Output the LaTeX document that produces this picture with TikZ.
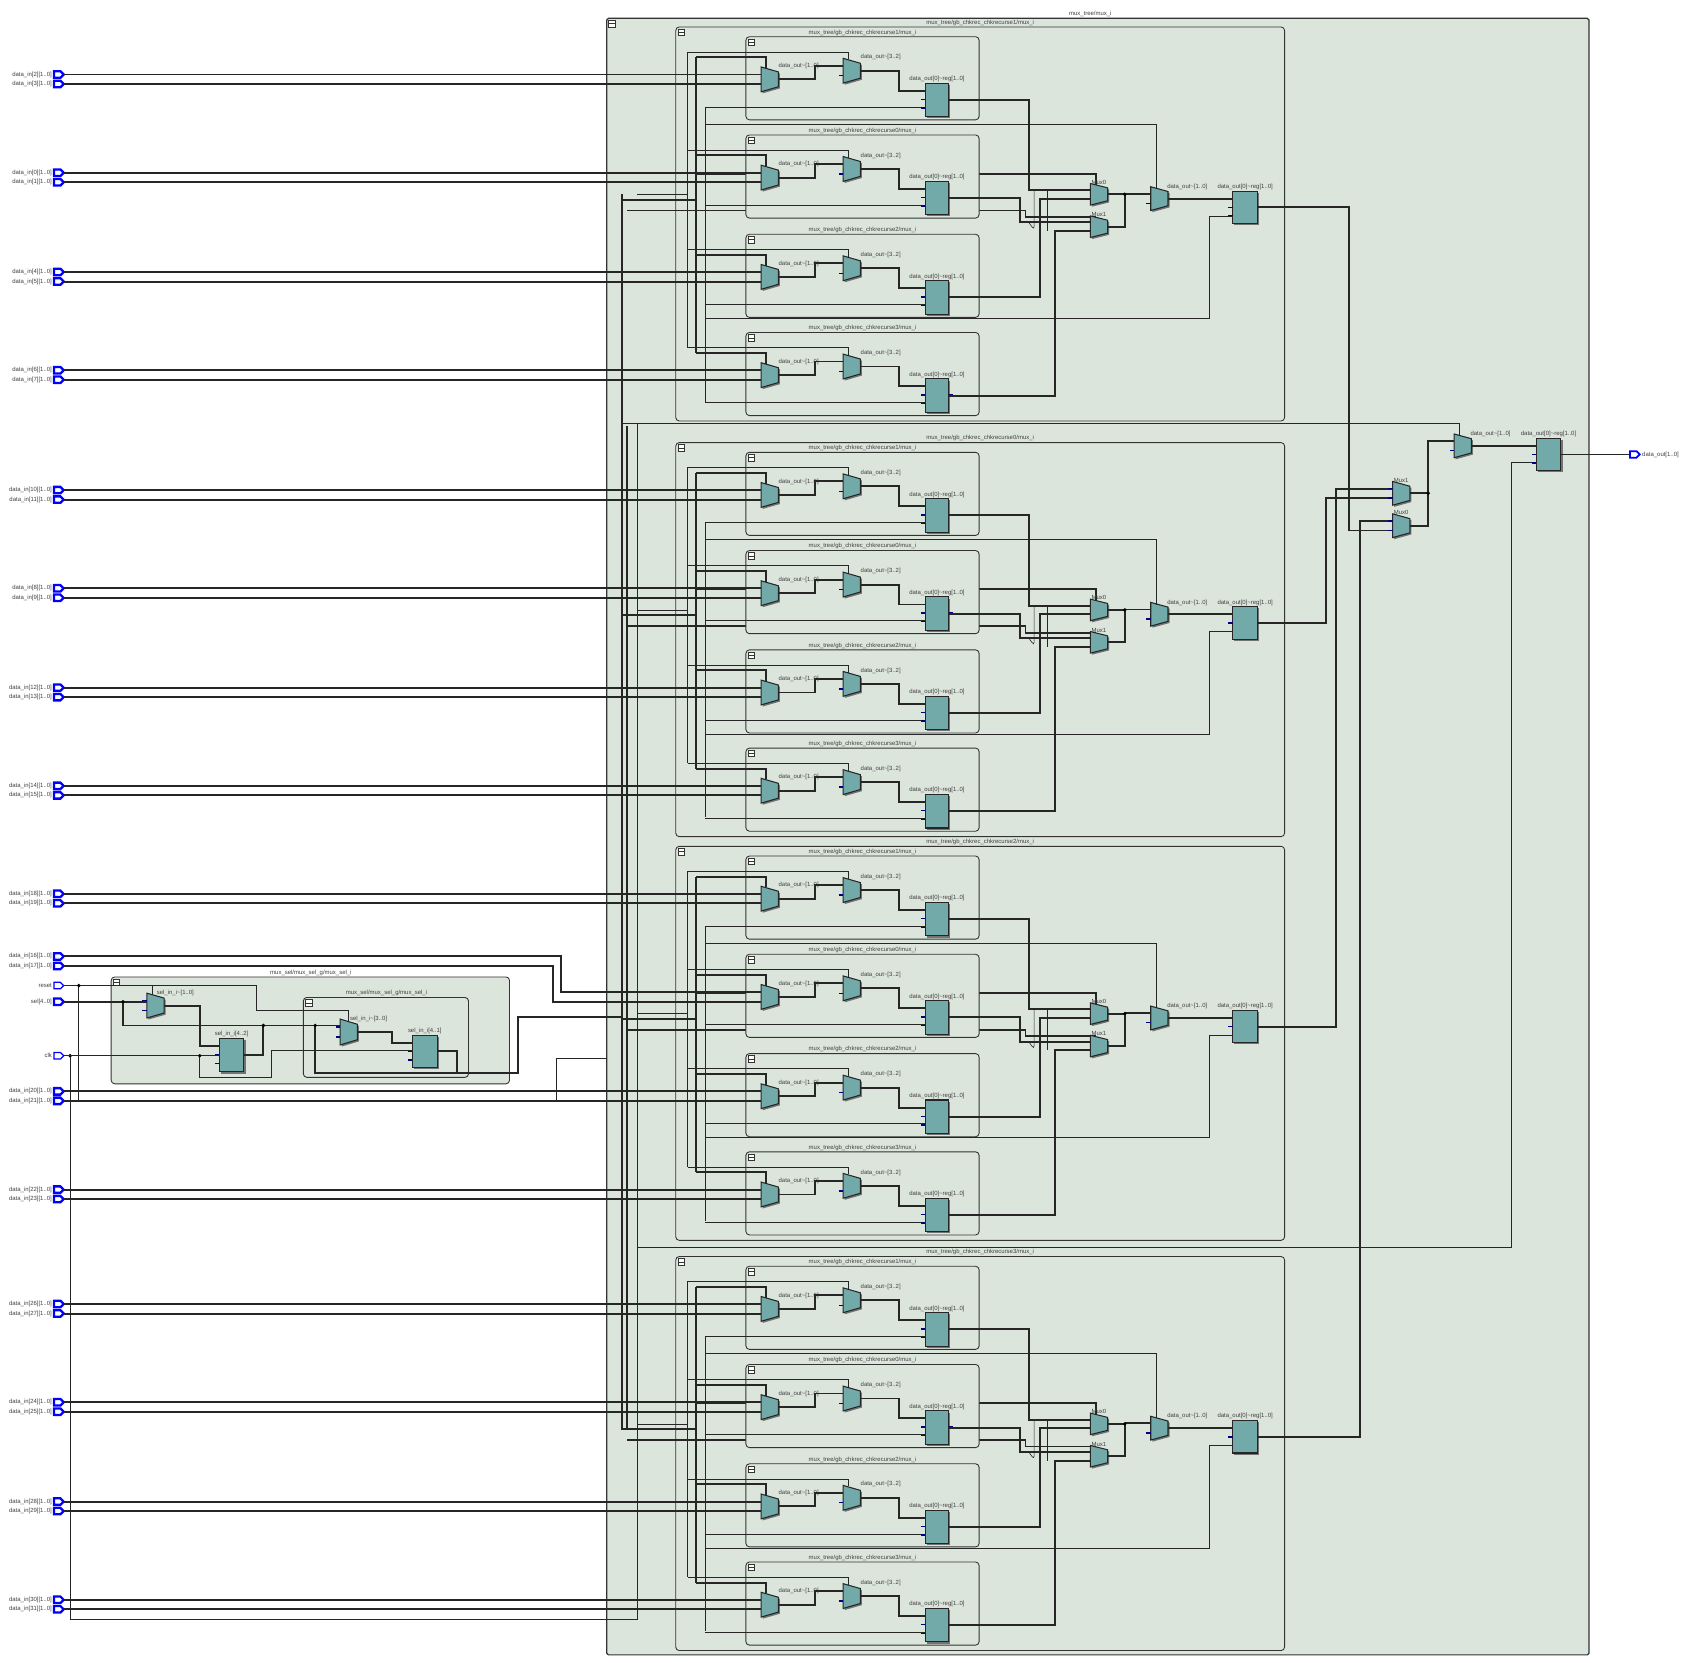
\documentclass[tikz,border=0pt]{standalone}
\usepackage{fontspec}
\setmainfont{Liberation Sans}
\definecolor{bgc}{HTML}{DCE5DC}
\definecolor{cellc}{HTML}{72AAAA}
\newcommand\mymux[4]{%
 \fill[black!55] (#1+1.5,#2+1.5) -- ++(16,{#3*0.2}) -- ++(0,{#3*0.6}) -- ++(-16,{#3*0.2}) -- cycle;
 \draw[cellf] (#1,#2) -- ++(16,{#3*0.2}) -- ++(0,{#3*0.6}) -- ++(-16,{#3*0.2}) -- cycle;
 \draw[stub] (#1-4,{#2+#3*0.3}) -- (#1,{#2+#3*0.3}) (#1-4,{#2+#3*0.7}) -- (#1,{#2+#3*0.7}) (#1+16,{#2+#3*0.5}) -- (#1+19,{#2+#3*0.5});
 \coordinate (#4) at (#1,#2);}
\newcommand\myreg[6]{%
 \fill[black!55] (#1+1.5,#2+1.5) rectangle ++(#3,#4);
 \draw[cellf] (#1,#2) rectangle ++(#3,#4);
 \draw[stub] (#1-4,#2+7) -- (#1,#2+7) (#1-4,#2+15) -- (#1,#2+15) (#1-4,#2+23) -- (#1,#2+23) (#1+#3,#2+15) -- (#1+#3+4,#2+15);
 \node[lab,above] (#6) at (#1+#3/2,#2) {#5};}
\newcommand\icon[2]{\draw[black!80,fill=white,line width=0.4pt] (#1,#2) rectangle ++(6,6); \draw[black!80,line width=0.4pt] (#1,#2+3) -- ++(6,0);}
\newcommand\levone[3]{%
 \draw[box] (691,#1) rectangle (907,#1+77);
 \icon{693}{#1+2}
 \node[lab,above] at (799,#1) {mux\_tree/gb\_chkrec\_chkrecurse#2/mux\_i};
 \draw[wire] (637,#1+14) -- (786,#1+14) -- (786,#1+21);
 \draw[bus] (645,#1+19) -- (710,#1+19) -- (710,#1+29);
 \draw[wire] (653,#1+65) -- (857,#1+65);
 \mymux{705}{#1+28}{23}{m1#3}
 \mymux{781}{#1+20}{23}{m2#3}
 \myreg{857}{#1+43}{22}{31}{data\_out[0]\string~reg[1..0]}{r#3}
 \node[lab,above right] at (720,#1+31) {data\_out\string~[1..0]};
 \node[lab,above right] at (796,#1+23) {data\_out\string~[3..2]};
 \draw[bus] (721,#1+39.5) -- (755,#1+39.5) -- (755,#1+26.9) -- (781,#1+26.9);
 \draw[bus] (797,#1+31.5) -- (833,#1+31.5) -- (833,#1+50) -- (857,#1+50);}
\begin{document}
\begin{tikzpicture}[x=0.021590cm,y=-0.021584cm,
 wire/.style={draw=black!85,line width=0.35pt},
 bus/.style={draw=black!85,line width=1.1pt},
 stub/.style={draw=blue!50!black,line width=0.8pt},
 box/.style={draw=black!80,fill=bgc,rounded corners=2pt,line width=0.5pt},
 cellf/.style={fill=cellc,draw=black!85,line width=0.6pt},
 lab/.style={font=\fontsize{3.4}{3.6}\selectfont,text=black!75,inner sep=0.6pt},
 plab/.style={font=\fontsize{3.4}{3.6}\selectfont,text=black!75,inner sep=1pt,left},
 dot/.style={circle,fill=black,inner sep=0pt,minimum size=2.2pt}]
\useasboundingbox (0,0) rectangle (1560,1540);
\draw[box,rounded corners=1pt,line width=0.7pt] (562,17) rectangle (1472,1533);
\icon{564}{19}
\node[lab,above] (top) at (1010,17) {mux\_tree/mux\_i};
\draw[bus] (576,180) -- (576,1325);
\draw[bus] (581,395) -- (581,1325);
\draw[wire] (590,392) -- (590,1410);
\draw[wire] (1352,404) -- (1352,392) -- (576,392);
\draw[wire] (1423,428) -- (1400,428) -- (1400,1155) -- (590,1155);
\foreach \G/\gl [count=\gi] in {25/1,410/0,784/2,1164/3}{
 \draw[box] (626,\G) rectangle (1190,\G+365);
 \icon{628}{\G+2}
 \node[lab,above] at (908,\G) {mux\_tree/gb\_chkrec\_chkrecurse\gl/mux\_i};
 \draw[bus] (645,\G+28) -- (645,\G+302);
 \draw[wire] (637,\G+23) -- (637,\G+297);
 \draw[wire] (653,\G+74) -- (653,\G+347);
 \draw[bus] (576,\G+160) -- (645,\G+160);
 \draw[bus] (581,\G+170) -- (950,\G+170) -- (950,\G+176) -- (1015,\G+176) (1015,\G+146) -- (1015,\G+136) -- (645,\G+136);
 \draw[wire] (590,\G+155) -- (637,\G+155);
 \foreach \o/\nm [count=\k] in {9/1,100/0,192/2,283/3}{\levone{\G+\o}{\nm}{\gi\k}}
 \mymux{1010}{\G+145}{20}{ma\gi}
 \mymux{1010}{\G+175}{20}{mb\gi}
 \node[lab,above] at (1018,\G+147) {Mux0};
 \node[lab,above] at (1018,\G+177) {Mux1};
 \mymux{1066}{\G+148}{22}{mc\gi}
 \node[lab,above right] at (1080,\G+152) {data\_out\string~[1..0]};
 \myreg{1142}{\G+152}{23}{30}{data\_out[0]\string~reg[1..0]}{rg\gi}
 \draw[bus] (879,\G+67.5) -- (953,\G+67.5) -- (953,\G+151) -- (1010,\G+151);
 \draw[bus] (879,\G+158.5) -- (945,\G+158.5) -- (945,\G+181) -- (1010,\G+181);
 \draw[bus] (879,\G+250.5) -- (963,\G+250.5) -- (963,\G+159) -- (1010,\G+159);
 \draw[bus] (879,\G+341.5) -- (977,\G+341.5) -- (977,\G+189) -- (1010,\G+189);
 \draw[wire,rounded corners=2pt] (953,\G+181) -- (958,\G+188) -- (958,\G+151);
 \draw[wire,rounded corners=2pt] (970,\G+151) -- (970,\G+189);
 \draw[bus] (1026,\G+155) -- (1042,\G+155) -- (1042,\G+185) -- (1026,\G+185);
 \draw[bus] (1042,\G+154.6) -- (1066,\G+154.6);
 \node[dot] at (1042,\G+155) {};
 \draw[bus] (1082,\G+159) -- (1142,\G+159);
 \draw[wire] (1071,\G+150) -- (1071,\G+90) -- (653,\G+90);
 \draw[wire] (1142,\G+175) -- (1120,\G+175) -- (1120,\G+270) -- (653,\G+270);
}
\draw[bus] (1165,192) -- (1250,192) -- (1250,491.4) -- (1290,491.4);
\draw[bus] (1165,577) -- (1228,577) -- (1228,461.4) -- (1290,461.4);
\draw[bus] (1165,951) -- (1238,951) -- (1238,452.6) -- (1290,452.6);
\draw[bus] (1165,1331) -- (1260,1331) -- (1260,482.6) -- (1290,482.6);
\mymux{1290}{446}{22}{tm1}
\mymux{1290}{476}{22}{tm0}
\node[lab,above] at (1298,448) {Mux1};
\node[lab,above] at (1298,478) {Mux0};
\mymux{1347}{402}{22}{tmc}
\node[lab,above right] at (1361,406) {data\_out\string~[1..0]};
\myreg{1423}{406}{23}{30}{data\_out[0]\string~reg[1..0]}{treg}
\draw[bus] (1306,457) -- (1323,457) (1306,487) -- (1323,487) -- (1323,408.6) -- (1347,408.6);
\node[dot] at (1323,457) {};
\draw[bus] (1363,413) -- (1423,413);
\draw[bus] (1446,421) -- (1510,421);
\draw[blue,line width=1pt,fill=white] (1510,418) -- (1516,418) -- (1519,421) -- (1516,424) -- (1510,424) -- cycle;
\node[lab,right] (dout) at (1520,421) {data\_out[1..0]};
\foreach \a/\b/\py/\my in {2/3/69/69,0/1/160/160,4/5/252/252,6/7/343/343,
 10/11/454/454,8/9/545/545,12/13/637/637,14/15/728/728,
 18/19/828/828,16/17/886/919,20/21/1011/1011,22/23/1102/1102,
 26/27/1208/1208,24/25/1299/1299,28/29/1391/1391,30/31/1482/1482}{
 \draw[blue,line width=1.3pt,fill=white] (50,\py-3) -- (56,\py-3) -- (59,\py) -- (56,\py+3) -- (50,\py+3) -- cycle;
 \draw[blue,line width=1.3pt,fill=white] (50,\py+5.8) -- (56,\py+5.8) -- (59,\py+8.8) -- (56,\py+11.8) -- (50,\py+11.8) -- cycle;
 \node[plab] at (50,\py) {data\_in[\a][1..0]};
 \node[plab] at (50,\py+8.8) {data\_in[\b][1..0]};
 \ifnum\py=\my
  \draw[bus] (59,\py) -- (705,\my);
  \draw[bus] (59,\py+8.8) -- (705,\my+8.8);
 \else
  \draw[bus] (59,\py) -- (520,\py) -- (520,\my) -- (705,\my);
  \draw[bus] (59,\py+8.8) -- (512,\py+8.8) -- (512,\my+8.8) -- (705,\my+8.8);
 \fi
}
\draw[blue,line width=0.7pt,fill=white] (50,910) -- (56,910) -- (59,913) -- (56,916) -- (50,916) -- cycle;
\node[plab] (rst) at (50,913) {reset};
\draw[blue,line width=1.3pt,fill=white] (50,925) -- (56,925) -- (59,928) -- (56,931) -- (50,931) -- cycle;
\node[plab] (sel) at (50,928) {sel[4..0]};
\draw[blue,line width=0.7pt,fill=white] (50,975) -- (56,975) -- (59,978) -- (56,981) -- (50,981) -- cycle;
\node[plab] (clk) at (50,978) {clk};
\draw[box] (103,905) rectangle (472,1004);
\icon{105}{907}
\node[lab,above] at (288,905) {mux\_sel/mux\_sel\_g/mux\_sel\_i};
\draw[box] (281,924) rectangle (434,998);
\icon{283}{926}
\node[lab,above] at (358,924) {mux\_sel/mux\_sel\_g/mux\_sel\_i};
\draw[wire] (59,913) -- (237,913) -- (237,936) -- (323,936) -- (323,946);
\draw[wire] (73,913) -- (73,1019) -- (515,1019) -- (515,980) -- (562,980);
\node[dot] at (73,913) {};
\draw[wire] (65,978) -- (65,1500);
\node[dot] at (65,978) {};
\draw[wire] (141,913) -- (141,921);
\draw[bus] (59,928) -- (136,928);
\draw[bus] (114,928) -- (114,950) -- (315,950);
\node[dot] at (114,928) {};
\mymux{136}{920}{23}{sm1}
\node[lab,above right] at (144,924) {sel\_in\_i\string~[1..0]};
\myreg{203}{962}{23}{31}{sel\_in\_i[4..2]}{sr1}
\mymux{315}{944}{24}{sm2}
\node[lab,above right] at (323,948) {sel\_in\_i\string~[3..0]};
\myreg{382}{959}{23}{30}{sel\_in\_i[4..1]}{sr2}
\draw[bus] (152,931.5) -- (185,931.5) -- (185,969) -- (203,969);
\draw[bus] (226,977) -- (244,977) -- (244,950);
\node[dot] at (244,950) {};
\draw[bus] (331,956) -- (363,956) -- (363,966) -- (382,966);
\draw[bus] (405,974) -- (423,974) -- (423,994) -- (292,994) -- (292,950);
\node[dot] at (292,950) {};
\draw[bus] (423,994) -- (480,994) -- (480,942) -- (576,942);
\draw[wire] (59,978) -- (203,978);
\draw[wire] (185,978) -- (185,998) -- (251,998) -- (251,973) -- (382,973);
\node[dot] at (185,978) {};
\draw[wire] (65,1500) -- (590,1500) -- (590,1410);
\end{tikzpicture}
\end{document}
